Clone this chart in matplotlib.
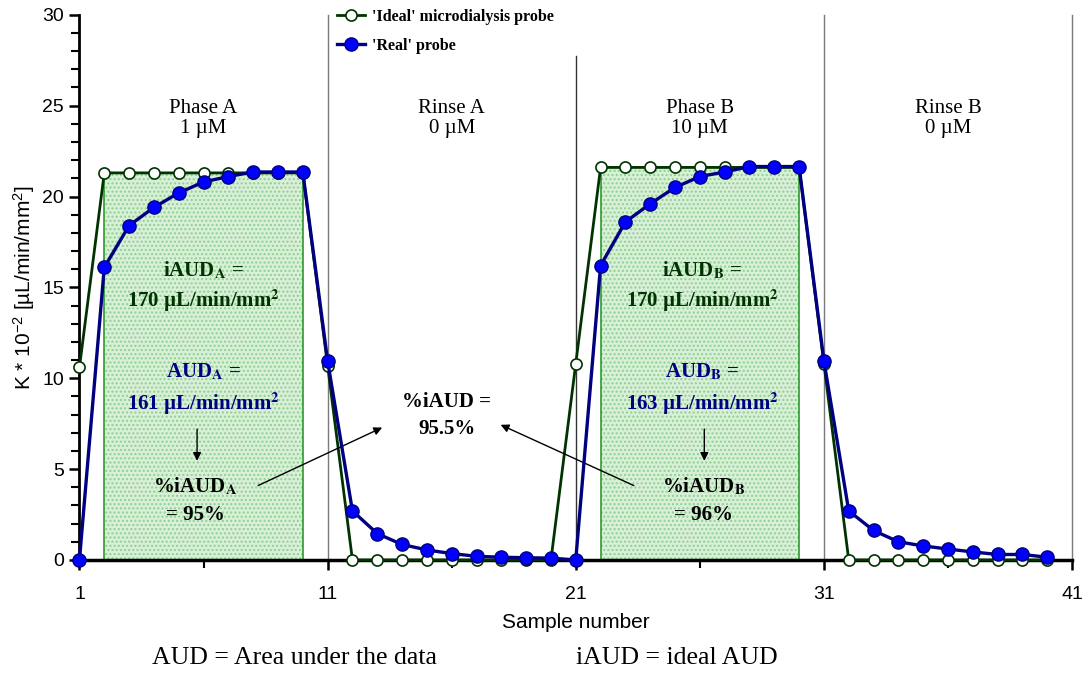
import numpy as np
import matplotlib
matplotlib.use("Agg")
import matplotlib.pyplot as plt

# sample numbers and the two probe series
sample = np.arange(1, 41)
ideal = [10.6] + [21.3] * 9 + [10.7] + [0.0] * 9 + [10.8] + [21.6] * 9 + [10.8] + [0.0] * 9
real = [0.0, 16.1, 18.4, 19.4, 20.2, 20.8, 21.1, 21.35, 21.35, 21.35,
        10.95, 2.7, 1.45, 0.85, 0.55, 0.35, 0.2, 0.15, 0.12, 0.1,
        0.0, 16.2, 18.6, 19.6, 20.5, 21.1, 21.35, 21.65, 21.65, 21.65,
        10.95, 2.7, 1.62, 1.0, 0.77, 0.6, 0.44, 0.3, 0.3, 0.15]

phase_names = ["Phase A\n1 µM", "Rinse A\n0 µM", "Phase B\n10 µM", "Rinse B\n0 µM"]
phase_centers = [6, 16, 26, 36]
borders = [11, 21, 31, 41]
xticks = [1, 11, 21, 31, 41]

green = "#003300"
navy = "#000080"
blue = "#0000ff"

plt.rcParams['mathtext.fontset'] = 'custom'
plt.rcParams['mathtext.rm'] = 'Liberation Sans'
plt.rcParams['mathtext.it'] = 'Liberation Sans:italic'
plt.rcParams['mathtext.bf'] = 'Liberation Sans:bold'

fig = plt.figure(figsize=(10.84, 6.73), dpi=100)
ax = fig.add_axes([0.0733, 0.168, 0.9157, 0.810])

# shaded areas under the ideal curve, phases A and B
for lo, hi in [(1, 10), (21, 30)]:
    xs = sample[lo:hi]
    ys = ideal[lo:hi]
    ax.fill_between(xs, ys, color="#d8efd8", hatch="....", edgecolor="#8fd08f", linewidth=0, zorder=1)
    ax.fill_between(xs, ys, facecolor="none", edgecolor="#2e9a2e", linewidth=1.2, zorder=1)

# phase separators
for b in borders:
    top = 27.75 if b == 21 else 30
    ax.plot([b, b], [0, top], color="#7a7a7a" if b != 21 else "#333333", lw=1.0, zorder=0.5, clip_on=False)

ax.plot(sample, ideal, color=green, lw=2.0, marker="o", ms=8, mfc="white", mec=green, mew=1.2,
        label="'Ideal' microdialysis probe", zorder=3, clip_on=False)
ax.plot(sample, real, color=navy, lw=2.4, marker="o", ms=9.5, mfc=blue, mec=navy, mew=1.0,
        label="'Real' probe", zorder=4, clip_on=False)

for name, cx in zip(phase_names, phase_centers):
    ax.text(cx, 24.3, name, ha="center", va="center", fontsize=15, family="Liberation Serif",
            linespacing=1.05)

tfont = dict(ha="center", va="center", fontsize=15, family="Liberation Serif", weight="bold",
             math_fontfamily="stix")
ax.text(5.98, 15.93, r"iAUD$_\mathbf{A}$ =", color=green, **tfont)
ax.text(5.98, 14.25, r"170 µL/min/mm$^\mathbf{2}$", color=green, **tfont)
ax.text(5.98, 10.33, r"AUD$_\mathbf{A}$ =", color=navy, **tfont)
ax.text(5.98, 8.6, r"161 µL/min/mm$^\mathbf{2}$", color=navy, **tfont)
ax.text(5.66, 4.05, r"%iAUD$_\mathbf{A}$", color="black", **tfont)
ax.text(5.66, 2.49, "= 95%", color="black", **tfont)

ax.text(26.1, 15.93, r"iAUD$_\mathbf{B}$ =", color=green, **tfont)
ax.text(26.1, 14.25, r"170 µL/min/mm$^\mathbf{2}$", color=green, **tfont)
ax.text(26.1, 10.33, r"AUD$_\mathbf{B}$ =", color=navy, **tfont)
ax.text(26.1, 8.6, r"163 µL/min/mm$^\mathbf{2}$", color=navy, **tfont)
ax.text(26.14, 4.05, r"%iAUD$_\mathbf{B}$", color="black", **tfont)
ax.text(26.14, 2.49, "= 96%", color="black", **tfont)

ax.text(15.8, 8.67, "%iAUD =", color="black", **tfont)
ax.text(15.8, 7.18, "95.5%", color="black", **tfont)

arr = dict(arrowstyle="-|>", color="black", lw=1.0, mutation_scale=12)
ax.annotate("", xy=(5.74, 5.3), xytext=(5.74, 7.35), arrowprops=arr)
ax.annotate("", xy=(26.18, 5.3), xytext=(26.18, 7.35), arrowprops=arr)
ax.annotate("", xy=(13.3, 7.35), xytext=(8.1, 4.03), arrowprops=arr)
ax.annotate("", xy=(17.87, 7.5), xytext=(23.44, 4.03), arrowprops=arr)

ax.set_xlim(1, 41)
ax.set_ylim(0, 30)
ax.set_xticks(xticks)
ax.set_xticks([6, 16, 26, 36], minor=True)
ax.set_yticks(range(0, 31, 5))
ax.set_yticks(range(0, 31), minor=True)
ax.tick_params(axis="both", which="major", direction="out", length=7, width=1.8, labelsize=14, pad=4)
ax.tick_params(axis="both", which="minor", direction="out", length=6, width=1.5)
ax.tick_params(axis="x", pad=12)
for lab in ax.get_xticklabels() + ax.get_yticklabels():
    lab.set_family("Liberation Sans")

for s in ["top", "right"]:
    ax.spines[s].set_visible(False)
ax.spines["left"].set_linewidth(2.0)
ax.spines["bottom"].set_linewidth(2.5)

ax.set_xlabel("Sample number", fontsize=15, family="Liberation Sans", labelpad=7)
ax.set_ylabel(r"K * 10$^{-2}$ [µL/min/mm$^{2}$]", fontsize=15, family="Liberation Sans", labelpad=4)

leg = ax.legend(loc="upper left", bbox_to_anchor=(0.259, 1.011), frameon=False, borderpad=0,
                borderaxespad=0, handlelength=1.8, handletextpad=0.4, labelspacing=0.8,
                prop=dict(family="Liberation Serif", weight="bold", size=11.5))

fig.text(0.272, 0.022, "AUD = Area under the data", ha="center", va="center", fontsize=18.5,
         family="Liberation Serif")
fig.text(0.624, 0.022, "iAUD = ideal AUD", ha="center", va="center", fontsize=18.5,
         family="Liberation Serif")

fig.savefig("out.png", dpi=100)
